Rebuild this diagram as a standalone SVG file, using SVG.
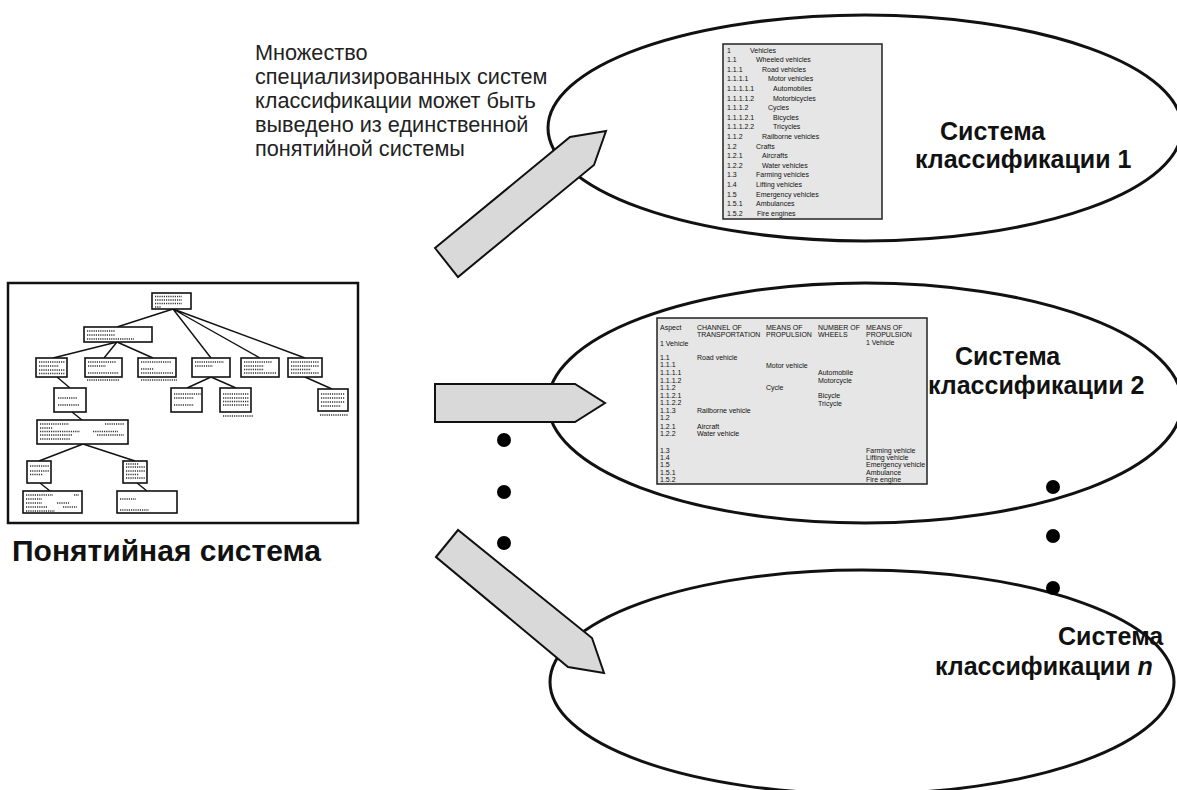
<svg xmlns="http://www.w3.org/2000/svg" width="1177" height="790" viewBox="0 0 1177 790">
  <style>
    .ell { fill: #ffffff; stroke: #111; stroke-width: 3; }
    .arrow { fill: #d9d9d9; stroke: #111; stroke-width: 2; stroke-linejoin: miter; }
    .table { fill: #e6e6e6; stroke: #222; stroke-width: 1.5; }
    .tt { font-family: "Liberation Sans", Arial, sans-serif; font-size: 7px; fill: #111; }
    .big { font-family: "Liberation Sans", Arial, sans-serif; font-weight: bold; fill: #111; }
    .lbl { font-size: 25px; }
    .note { font-family: "Liberation Sans", Arial, sans-serif; font-size: 21.7px; fill: #222; }
    .frame { fill: #fff; stroke: #111; stroke-width: 2.5; }
    .node { fill: #fff; stroke: #111; stroke-width: 1.6; }
    .edge { stroke: #111; stroke-width: 1.4; fill: none; }
    .dots { stroke: #333; stroke-width: 1.4; stroke-dasharray: 1.2 1; fill: none; }
    .dot { fill: #000; }
  </style>

  <!-- classification system ellipses -->
  <g id="ellipse-1">
    <ellipse class="ell" cx="865" cy="128" rx="317" ry="113"/>
    <text class="big lbl" x="940" y="140">Система</text>
    <text class="big lbl" x="915" y="168">классификации 1</text>
  </g>
  <g id="ellipse-2">
    <ellipse class="ell" cx="865" cy="403" rx="317" ry="120"/>
    <text class="big lbl" x="955" y="365">Система</text>
    <text class="big lbl" x="928" y="394">классификации 2</text>
  </g>
  <g id="ellipse-n">
    <ellipse class="ell" cx="862" cy="682" rx="312" ry="112"/>
    <text class="big lbl" x="1058" y="645">Система</text>
    <text class="big lbl" x="935" y="675">классификации <tspan font-style="italic">n</tspan></text>
  </g>

  <!-- table of classification system 1 -->
  <g id="table-1">
    <rect class="table" x="723" y="44" width="159" height="175"/>
    <g class="tt">
      <text x="727" y="52.6">1</text><text x="750" y="52.6">Vehicles</text>
      <text x="727" y="62.2">1.1</text><text x="756" y="62.2">Wheeled vehicles</text>
      <text x="727" y="71.8">1.1.1</text><text x="762" y="71.8">Road vehicles</text>
      <text x="727" y="81.4">1.1.1.1</text><text x="768" y="81.4">Motor vehicles</text>
      <text x="727" y="91">1.1.1.1.1</text><text x="773" y="91">Automobiles</text>
      <text x="727" y="100.6">1.1.1.1.2</text><text x="773" y="100.6">Motorbicycles</text>
      <text x="727" y="110.2">1.1.1.2</text><text x="768" y="110.2">Cycles</text>
      <text x="727" y="119.8">1.1.1.2.1</text><text x="773" y="119.8">Bicycles</text>
      <text x="727" y="129.4">1.1.1.2.2</text><text x="773" y="129.4">Tricycles</text>
      <text x="727" y="139">1.1.2</text><text x="762" y="139">Railborne vehicles</text>
      <text x="727" y="148.6">1.2</text><text x="756" y="148.6">Crafts</text>
      <text x="727" y="158.2">1.2.1</text><text x="762" y="158.2">Aircrafts</text>
      <text x="727" y="167.8">1.2.2</text><text x="762" y="167.8">Water vehicles</text>
      <text x="727" y="177.4">1.3</text><text x="756" y="177.4">Farming vehicles</text>
      <text x="727" y="187">1.4</text><text x="756" y="187">Lifting vehicles</text>
      <text x="727" y="196.6">1.5</text><text x="756" y="196.6">Emergency vehicles</text>
      <text x="727" y="206.2">1.5.1</text><text x="756" y="206.2">Ambulances</text>
      <text x="727" y="215.8">1.5.2</text><text x="757" y="215.8">Fire engines</text>
    </g>
  </g>

  <!-- table of classification system 2 -->
  <g id="table-2">
    <rect class="table" x="657" y="318" width="270" height="166"/>
    <g class="tt">
      <text x="660" y="329.6">Aspect</text>
      <text x="697" y="329.6">CHANNEL OF</text>
      <text x="766" y="329.6">MEANS OF</text>
      <text x="818" y="329.6">NUMBER OF</text>
      <text x="866" y="329.6">MEANS OF</text>
      <text x="697" y="336.8">TRANSPORTATION</text>
      <text x="766" y="336.8">PROPULSION</text>
      <text x="818" y="336.8">WHEELS</text>
      <text x="866" y="336.8">PROPULSION</text>
      <text x="866" y="345.4">1 Vehicle</text>
      <text x="660" y="346.4">1 Vehicle</text>
      <text x="660" y="359.6">1.1</text><text x="697" y="359.6">Road vehicle</text>
      <text x="660" y="367.4">1.1.1</text><text x="766" y="368">Motor vehicle</text>
      <text x="660" y="375">1.1.1.1</text><text x="818" y="375.4">Automobile</text>
      <text x="660" y="382.6">1.1.1.2</text><text x="818" y="382.8">Motorcycle</text>
      <text x="660" y="390.2">1.1.2</text><text x="766" y="390.4">Cycle</text>
      <text x="660" y="397.8">1.1.2.1</text><text x="818" y="398.2">Bicycle</text>
      <text x="660" y="405.4">1.1.2.2</text><text x="818" y="405.6">Tricycle</text>
      <text x="660" y="413">1.1.3</text><text x="697" y="413">Railborne vehicle</text>
      <text x="660" y="420.4">1.2</text>
      <text x="660" y="428.6">1.2.1</text><text x="697" y="428.6">Aircraft</text>
      <text x="660" y="436">1.2.2</text><text x="697" y="436">Water vehicle</text>
      <text x="660" y="452.6">1.3</text><text x="866" y="452.6">Farming vehicle</text>
      <text x="660" y="460">1.4</text><text x="866" y="460">Lifting vehicle</text>
      <text x="660" y="467.4">1.5</text><text x="866" y="467.4">Emergency vehicle</text>
      <text x="660" y="474.8">1.5.1</text><text x="866" y="474.8">Ambulance</text>
      <text x="660" y="482.2">1.5.2</text><text x="866" y="482.2">Fire engine</text>
    </g>
  </g>

  <!-- block arrows from the concept system -->
  <g id="connectors">
    <polygon class="arrow" points="435,248 570,137 606,131 594,165 458,277"/>
    <polygon class="arrow" points="435,384 575,384 605,403 575,422 435,422"/>
    <polygon class="arrow" points="436,557 458,530 592,638 604,673 568,667"/>
  </g>

  <!-- ellipsis dots -->
  <g id="dots-left">
    <circle class="dot" cx="504" cy="440" r="7"/>
    <circle class="dot" cx="504" cy="492" r="7"/>
    <circle class="dot" cx="504" cy="543" r="7"/>
  </g>
  <g id="dots-right">
    <circle class="dot" cx="1053" cy="487" r="7"/>
    <circle class="dot" cx="1053" cy="536" r="7"/>
    <circle class="dot" cx="1053" cy="588" r="7"/>
  </g>

  <!-- explanatory note -->
  <g id="note">
    <text class="note" x="255" y="60">Множество</text>
    <text class="note" x="255" y="84">специализированных систем</text>
    <text class="note" x="255" y="108">классификации может быть</text>
    <text class="note" x="255" y="132">выведено из единственной</text>
    <text class="note" x="255" y="156">понятийной системы</text>
  </g>

  <!-- concept system tree -->
  <g id="concept-system">
    <rect class="frame" x="8" y="283" width="350" height="240"/>
    <g class="tree-edges">
      <path class="edge" d="M173,309 L117,327 M173,309 L211,358 M173,309 L260,358 M173,309 L305,358"/>
      <path class="edge" d="M117,342 L53,358 M117,342 L104,358 M117,342 L153,358"/>
      <path class="edge" d="M211,377 L187,388 M211,377 L236,388 M305,377 L332,389"/>
      <path class="edge" d="M57,377 L70,388 M72,412 L82,420 M83,444 L39,461 M83,444 L135,461"/>
      <path class="edge" d="M40,483 L50,491 M137,483 L147,491"/>
    </g>
    <rect class="node" x="152" y="293" width="39" height="16"/>
    <path class="dots" d="M155,296.5h27 M155,300h27 M155,303.5h27 M155,307h6"/>
    <rect class="node" x="84" y="327" width="68" height="15"/>
    <path class="dots" d="M87,331h28 M87,335h28 M87,339h47"/>
    <rect class="node" x="36" y="358" width="31" height="19"/>
    <path class="dots" d="M39,362h26 M39,366h20 M39,370h26 M39,373.5h26"/>
    <rect class="node" x="85" y="358" width="37" height="19"/>
    <path class="dots" d="M88,362h28 M88,366h18 M88,373h31 M87,380h32"/>
    <rect class="node" x="138" y="358" width="38" height="19"/>
    <path class="dots" d="M141,362h30 M141,369h13 M141,373h32 M141,380h36"/>
    <rect class="node" x="192" y="358" width="38" height="19"/>
    <path class="dots" d="M195,362h29 M195,366h18"/>
    <rect class="node" x="241" y="358" width="38" height="19"/>
    <path class="dots" d="M244,362h28 M244,366h20 M244,369.5h20 M244,373h32"/>
    <rect class="node" x="288" y="358" width="34" height="19"/>
    <path class="dots" d="M291,362h28 M291,366h28 M291,369.5h20 M291,373h28"/>
    <rect class="node" x="171" y="388" width="31" height="24"/>
    <path class="dots" d="M174,394h27 M174,398h20 M174,405h20"/>
    <rect class="node" x="220" y="388" width="31" height="24"/>
    <path class="dots" d="M223,394h26 M223,398h26 M223,401.5h26 M223,405h26 M223,416h30"/>
    <rect class="node" x="318" y="389" width="30" height="22"/>
    <path class="dots" d="M321,394h24 M321,398h24 M321,402h24 M321,406h20 M320,415h28"/>
    <rect class="node" x="54" y="388" width="32" height="24"/>
    <path class="dots" d="M58,398h19 M58,405h21"/>
    <rect class="node" x="37" y="420" width="91" height="24"/>
    <path class="dots" d="M40,424h29 M105,424h19 M40,428h13 M40,431.5h40 M93,431.5h25 M40,435h32 M97,435h27 M40,439h30"/>
    <rect class="node" x="27" y="461" width="24" height="22"/>
    <path class="dots" d="M30,466h19 M30,471h19 M30,474.5h13"/>
    <rect class="node" x="123" y="461" width="24" height="22"/>
    <path class="dots" d="M126,464h13 M126,467h19 M126,471h19 M126,474.5h13 M126,478h19"/>
    <rect class="node" x="23" y="491" width="59" height="22"/>
    <path class="dots" d="M26,495h27 M74,495h5 M26,499h16 M26,503h16 M57,503h12 M26,507h22 M63,507h14 M26,511h29"/>
    <rect class="node" x="117" y="491" width="60" height="22"/>
    <path class="dots" d="M120,499h16 M120,510h29"/>
    <text class="big" font-size="30" x="12" y="561">Понятийная система</text>
  </g>
</svg>
